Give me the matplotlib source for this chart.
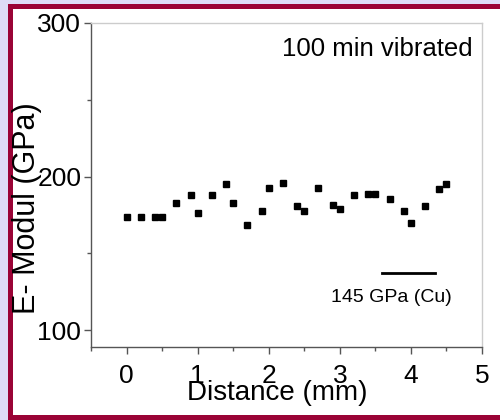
import numpy as np
import matplotlib
matplotlib.use("Agg")
import matplotlib.pyplot as plt
from matplotlib.patches import Rectangle
from matplotlib.ticker import MultipleLocator

# data
distance = [0.0, 0.2, 0.4, 0.5, 0.7, 0.9, 1.0, 1.2, 1.4, 1.5, 1.7, 1.9, 2.0, 2.2,
            2.4, 2.5, 2.7, 2.9, 3.0, 3.2, 3.4, 3.5, 3.7, 3.9, 4.0, 4.2, 4.4, 4.5]
modulus = [173.8, 173.8, 173.8, 173.8, 182.9, 188.0, 176.0, 188.0, 194.9, 182.9,
           168.6, 177.7, 192.5, 196.0, 180.6, 177.7, 192.5, 181.6, 178.6, 187.8,
           188.6, 188.6, 185.5, 177.7, 169.5, 180.6, 192.1, 195.3]
cu_x = [3.6, 4.34]
cu_y = [137, 137]
cu_label = "145 GPa (Cu)"

plt.rcParams['font.family'] = ['Liberation Sans', 'DejaVu Sans']

W, H = 500, 420
fig = plt.figure(figsize=(5, 4.2), dpi=100)
fig.patch.set_facecolor('#dedcf7')

# ── slide frame (behind the axes) ───────────────────
frame = Rectangle((9.5 / W, 1 - 417 / H), (505 - 9.5) / W, (417 - 5.5) / H,
                  transform=fig.transFigure, facecolor='white',
                  edgecolor='#9a0336', linewidth=3.6, zorder=-10)
fig.patches.append(frame)

ax = fig.add_axes([91 / W, 1 - 347 / H, (482 - 91) / W, (347 - 23) / H])
ax.set_zorder(5)
ax.set_facecolor('white')

ax.plot(distance, modulus, 's', color='black', markersize=4, zorder=3)
ax.plot(cu_x, cu_y, color='black', linewidth=2)
ax.text(3.73, 121, cu_label, ha='center', va='center', fontsize=14)

ax.text(0.975, 0.92, "100 min vibrated", transform=ax.transAxes,
        ha='right', va='center', fontsize=18.5)

ax.set_xlim(-0.5, 5)
ax.set_ylim(89, 300)
ax.xaxis.set_major_locator(MultipleLocator(1))
ax.xaxis.set_minor_locator(MultipleLocator(0.5))
ax.yaxis.set_major_locator(MultipleLocator(100))
ax.yaxis.set_minor_locator(MultipleLocator(50))

for side in ['left', 'bottom']:
    ax.spines[side].set_color('#555555')
    ax.spines[side].set_linewidth(1.0)
for side in ['top', 'right']:
    ax.spines[side].set_color('#cccccc')
    ax.spines[side].set_linewidth(1.0)

ax.tick_params(which='major', direction='out', length=5, width=1,
               color='#555555', labelsize=19, pad=2)
ax.tick_params(axis='x', which='major', pad=7)
ax.tick_params(which='minor', direction='out', length=3, width=1,
               color='#555555')

ax.set_xlabel('Distance (mm)', fontsize=20)
ax.set_ylabel('E- Modul (GPa)', fontsize=22)
ax.xaxis.set_label_coords(0.477, -0.103)
ax.yaxis.set_label_coords(-0.125, 0.43)

fig.savefig('out.png', dpi=100, facecolor=fig.get_facecolor())
